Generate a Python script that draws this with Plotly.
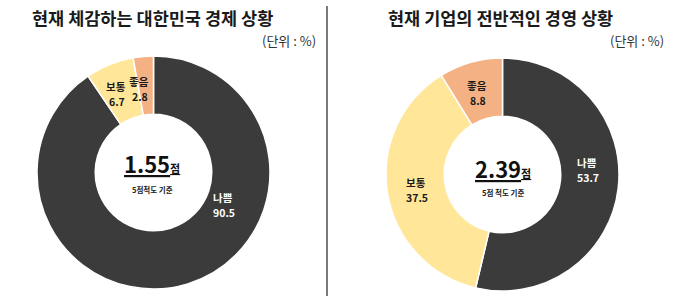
import plotly.graph_objects as go

W, H = 680, 296

labels = ["나쁨", "보통", "좋음"]
left_values = [90.5, 6.7, 2.8]
right_values = [53.7, 37.5, 8.8]
left_title = "현재 체감하는 대한민국 경제 상황"
right_title = "현재 기업의 전반적인 경영 상황"
unit_text = "(단위 : %)"
left_score = "1.55"
right_score = "2.39"
score_unit = "점"
scale_note = "5점척도 기준"
right_scale_note = "5점 척도 기준"

colors = ["#3b3b3b", "#ffe699", "#f4b183"]
text_colors = ["#ffffff", "#1a1a1a", "#1a1a1a"]
FONT = "Noto Sans CJK KR"


def px(x):
    return x / W


def py(y):
    return 1 - y / H


fig = go.Figure()
fig.add_trace(go.Pie(
    labels=labels, values=left_values, hole=0.5, sort=False,
    direction="clockwise", rotation=0,
    marker=dict(colors=colors, line=dict(color="white", width=1.5)),
    textinfo="none", hoverinfo="label+value", showlegend=False,
    domain=dict(x=[px(37), px(270)], y=[py(290), py(55)]),
))
fig.add_trace(go.Pie(
    labels=labels, values=right_values, hole=0.5, sort=False,
    direction="clockwise", rotation=0,
    marker=dict(colors=colors, line=dict(color="white", width=1.5)),
    textinfo="none", hoverinfo="label+value", showlegend=False,
    domain=dict(x=[px(386), px(619)], y=[py(292), py(57)]),
))

ann = []


def t(x, y, text, size, color="#1a1a1a", xanchor="center"):
    ann.append(dict(x=px(x), y=py(y), xref="paper", yref="paper", text=text,
                    showarrow=False, xanchor=xanchor, yanchor="middle",
                    font=dict(family=FONT, size=size, color=color)))


# titles
t(152, 17, "<b>" + left_title + "</b>", 17.5)
t(500, 17, "<b>" + right_title + "</b>", 17.5)
t(318, 41, unit_text, 13, "#333333", "right")
t(666, 41, unit_text, 13, "#333333", "right")

# slice labels (left)
left_pos = [(223, 197), (116, 86), (139, 82)]
for (x, y), lab, v, c in zip(left_pos, labels, left_values, text_colors):
    t(x, y, "<b>" + lab + "</b>", 10.5, c)
    t(x + 1, y + 15, "<b>%.1f</b>" % v, 10.5, c)

right_pos = [(587, 162), (416, 182), (477, 85)]
for (x, y), lab, v, c in zip(right_pos, labels, right_values, text_colors):
    t(x, y, "<b>" + lab + "</b>", 10.5, c)
    t(x + 1, y + 15, "<b>%.1f</b>" % v, 10.5, c)

# center scores
center_fmt = "<b><u>{s}<span style='font-size:11px'>{u}</span></u></b>"
t(152, 163, center_fmt.format(s=left_score, u=score_unit), 22, "#111111")
t(152, 189, "<b>" + scale_note + "</b>", 7.5, "#222222")
t(503, 168, center_fmt.format(s=right_score, u=score_unit), 22, "#111111")
t(503, 193, "<b>" + right_scale_note + "</b>", 7.5, "#222222")

fig.update_layout(
    width=W, height=H,
    margin=dict(l=0, r=0, t=0, b=0),
    paper_bgcolor="white", plot_bgcolor="white",
    annotations=ann,
    shapes=[dict(type="line", xref="paper", yref="paper",
                 x0=px(327), x1=px(327), y0=0, y1=py(6),
                 line=dict(color="#333333", width=1.3))],
)

fig.write_html("out.html")
